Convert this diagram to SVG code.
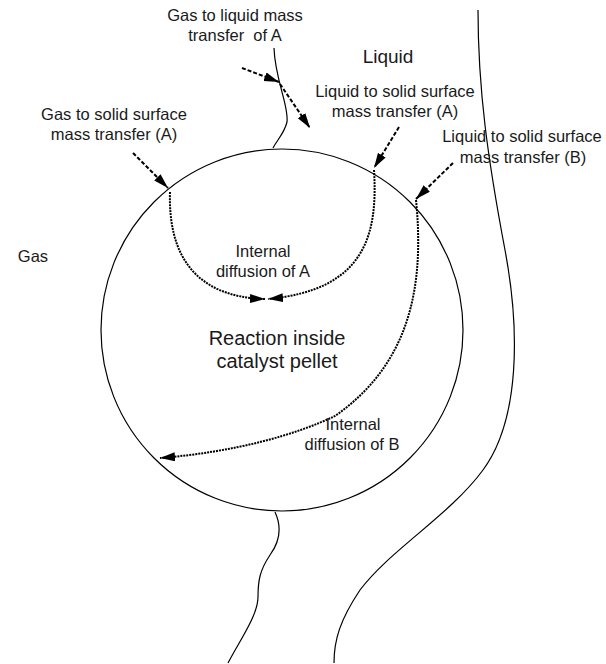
<svg xmlns="http://www.w3.org/2000/svg" width="606" height="664" viewBox="0 0 606 664">
<style>
.bd{fill:none;stroke:#000;stroke-width:1.2}
.sh{fill:none;stroke:#000;stroke-width:2;stroke-dasharray:4 2}
.dp{fill:none;stroke:#000;stroke-width:2;stroke-dasharray:2 1}
text{font-family:"Liberation Sans",Arial,sans-serif;fill:#1a1a1a;text-anchor:middle}
.s{font-size:16.5px}
</style>
<defs>
<marker id="ah" markerUnits="userSpaceOnUse" markerWidth="16" markerHeight="10" refX="15" refY="4.5" orient="auto">
<path d="M0,0 L15,4.5 L0,9 z" fill="#000"/>
</marker>
</defs>
<rect width="606" height="664" fill="#fff"/>
<g id="pellet">
<circle class="bd" cx="282" cy="330" r="181"/>
<text x="277" y="345" style="font-size:20px">Reaction inside</text>
<text x="277" y="368" style="font-size:20px">catalyst pellet</text>
</g>
<g id="boundaries">
<path class="bd" d="M274,48 C275,80 289,105 287,122 C284,134 277,140 273,148"/>
<path class="bd" d="M275,512 C281,525 281,540 270,555 C260,570 258,580 258,597 C258,615 240,640 228,663"/>
<path class="bd" d="M478,10 C478,90 488,160 505,250 C520,330 520,420 483,470 C450,515 390,550 360,590 C340,620 334,640 334,663"/>
</g>
<g id="gas"><text x="33" y="262" style="font-size:16.5px">Gas</text></g>
<g id="liquid"><text x="388" y="63" style="font-size:19px">Liquid</text></g>
<g id="connectors">
<line class="sh" x1="242" y1="68" x2="279" y2="82" marker-end="url(#ah)"/>
<line class="sh" x1="280" y1="84" x2="310" y2="128" marker-end="url(#ah)"/>
<line class="sh" x1="133" y1="153" x2="168" y2="188" marker-end="url(#ah)"/>
<line class="sh" x1="399" y1="127" x2="374" y2="168" marker-end="url(#ah)"/>
<line class="sh" x1="453" y1="163" x2="416" y2="199" marker-end="url(#ah)"/>
<path class="dp" d="M170,192 C168,255 195,297 265,299" marker-end="url(#ah)"/>
<path class="dp" d="M374,170 C378,235 365,290 268,299" marker-end="url(#ah)"/>
<path class="dp" d="M416,200 C425,290 408,365 335,416 C295,435 235,452 160,458" marker-end="url(#ah)"/>
</g>
<g id="label-g2l">
<text class="s" x="235" y="21">Gas to liquid mass</text>
<text class="s" x="235" y="41" xml:space="preserve">transfer  of A</text>
</g>
<g id="label-g2s">
<text class="s" x="114" y="120">Gas to solid surface</text>
<text class="s" x="114" y="140">mass transfer (A)</text>
</g>
<g id="label-l2sA">
<text class="s" x="395" y="97">Liquid to solid surface</text>
<text class="s" x="395" y="117">mass transfer (A)</text>
</g>
<g id="label-l2sB">
<text class="s" x="522" y="142">Liquid to solid surface</text>
<text class="s" x="523" y="163">mass transfer (B)</text>
</g>
<g id="label-idA">
<text class="s" x="263" y="257">Internal</text>
<text class="s" x="263" y="277">diffusion of A</text>
</g>
<g id="label-idB">
<text class="s" x="353" y="430">Internal</text>
<text class="s" x="352" y="450">diffusion of B</text>
</g>
</svg>
